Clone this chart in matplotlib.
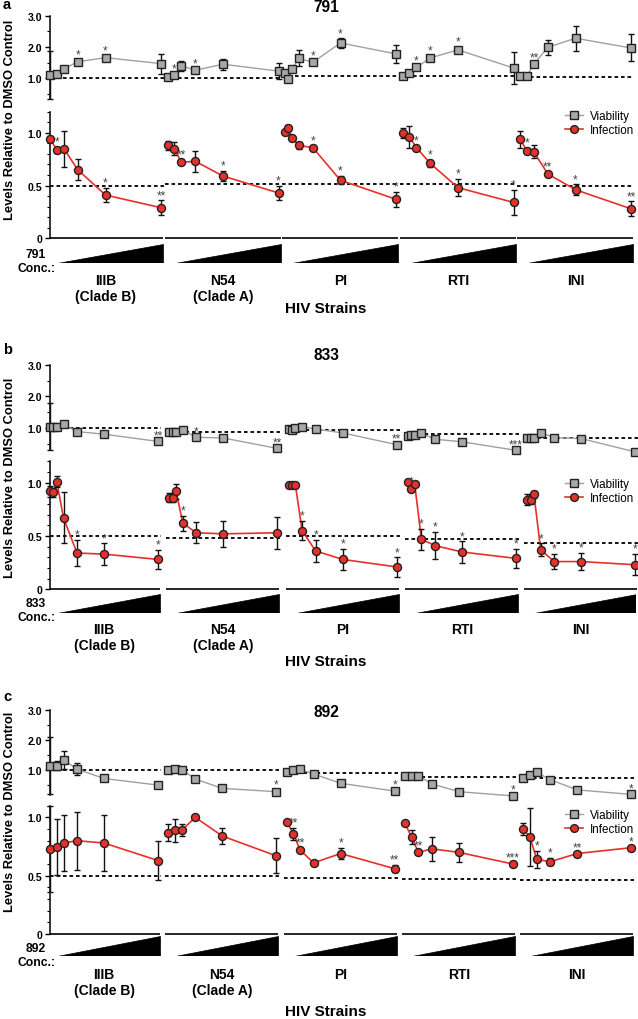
import matplotlib
matplotlib.use("Agg")
import matplotlib.pyplot as plt
from matplotlib.patches import Polygon
from matplotlib.lines import Line2D

plt.rcParams['font.family'] = ['Liberation Sans', 'DejaVu Sans']

W, H, DPI = 638, 1020, 100

# ---------------- data ----------------
groups = ["IIIB\n(Clade B)", "N54\n(Clade A)", "PI", "RTI", "INI"]
compounds = ["791", "833", "892"]
conc6 = [0, 1/16, 1/8, 1/4, 1/2, 1]
conc7 = [0, 1/32, 1/16, 1/8, 1/4, 1/2, 1]

# panel a (791)
a_conc = [conc6, conc6, conc7, conc6, conc6]
a_via = [[1.11, 1.13, 1.30, 1.53, 1.66, 1.47],
         [1.04, 1.11, 1.40, 1.26, 1.45, 1.23],
         [1.17, 0.98, 1.30, 1.64, 1.51, 2.13, 1.78],
         [1.09, 1.17, 1.35, 1.65, 1.91, 1.33],
         [1.08, 1.09, 1.45, 1.99, 2.28, 1.97]]
a_via_err = [[0.77, 0.04, 0.08, 0.05, 0.05, 0.32],
             [0.03, 0.04, 0.15, 0.05, 0.18, 0.25],
             [0.05, 0.05, 0.05, 0.25, 0.05, 0.15, 0.28],
             [0.03, 0.03, 0.05, 0.07, 0.10, 0.50],
             [0.03, 0.03, 0.05, 0.25, 0.40, 0.43]]
a_via_sig = [["", "", "", "*", "*", ""],
             ["", "*", "", "*", "", ""],
             ["", "", "", "", "*", "*", ""],
             ["", "", "*", "*", "*", ""],
             ["", "", "**", "", "", ""]]
a_inf = [[0.94, 0.84, 0.85, 0.65, 0.41, 0.29],
         [0.88, 0.85, 0.72, 0.73, 0.59, 0.43],
         [1.01, 1.05, 0.95, 0.88, 0.86, 0.55, 0.37],
         [1.00, 0.96, 0.86, 0.71, 0.48, 0.34],
         [0.94, 0.83, 0.82, 0.61, 0.46, 0.28]]
a_inf_err = [[0.03, 0.03, 0.17, 0.10, 0.07, 0.07],
             [0.04, 0.06, 0.02, 0.10, 0.05, 0.07],
             [0.02, 0.02, 0.02, 0.03, 0.02, 0.04, 0.07],
             [0.05, 0.10, 0.02, 0.03, 0.08, 0.12],
             [0.08, 0.03, 0.06, 0.02, 0.05, 0.07]]
a_inf_sig = [["", "*", "", "", "*", "**"],
             ["", "", "**", "", "*", "*"],
             ["", "", "", "", "*", "*", "*"],
             ["", "", "*", "*", "*", "*"],
             ["", "*", "", "**", "*", "**"]]
a_via_ref = [1.00, 1.02, 1.09, 1.09, 1.05]
a_inf_ref = [0.50, 0.51, 0.51, 0.51, 0.50]

# panel b (833)
b_conc = [conc7, conc7, conc7, conc7, conc7]
b_via = [[1.05, 1.05, 1.05, 1.13, 0.89, 0.81, 0.58],
         [0.87, 0.87, 0.89, 0.94, 0.71, 0.69, 0.36],
         [0.97, 0.95, 1.00, 1.05, 0.97, 0.85, 0.48],
         [0.76, 0.78, 0.78, 0.84, 0.65, 0.57, 0.30],
         [0.70, 0.68, 0.68, 0.86, 0.70, 0.67, 0.25]]
b_via_err = [[0.73, 0.03, 0.03, 0.08, 0.03, 0.03, 0.03],
             [0.03, 0.03, 0.03, 0.03, 0.03, 0.03, 0.03],
             [0.04, 0.03, 0.03, 0.05, 0.03, 0.03, 0.03],
             [0.03, 0.03, 0.03, 0.03, 0.03, 0.03, 0.03],
             [0.03, 0.03, 0.03, 0.03, 0.03, 0.06, 0.03]]
b_via_sig = [["", "", "", "", "", "", "**"],
             ["", "", "", "", "*", "", "**"],
             ["", "", "", "", "", "", "**"],
             ["", "", "", "", "", "", "***"],
             ["", "", "", "", "", "", "*"]]
b_inf = [[0.92, 0.91, 1.01, 0.67, 0.34, 0.33, 0.28],
         [0.86, 0.86, 0.92, 0.62, 0.53, 0.52, 0.53],
         [0.98, 0.98, 0.98, 0.55, 0.36, 0.28, 0.21],
         [1.01, 0.94, 0.99, 0.47, 0.41, 0.35, 0.29],
         [0.84, 0.84, 0.89, 0.37, 0.26, 0.26, 0.23]]
b_inf_err = [[0.05, 0.04, 0.05, 0.24, 0.12, 0.10, 0.09],
             [0.04, 0.04, 0.07, 0.07, 0.10, 0.12, 0.15],
             [0.02, 0.02, 0.02, 0.09, 0.10, 0.10, 0.09],
             [0.02, 0.02, 0.02, 0.10, 0.13, 0.10, 0.09],
             [0.05, 0.04, 0.03, 0.06, 0.07, 0.08, 0.10]]
b_inf_sig = [["", "", "", "", "*", "*", "*"],
             ["", "", "", "*", "", "", ""],
             ["", "", "", "*", "*", "*", "*"],
             ["", "*", "", "*", "*", "*", "*"],
             ["", "", "", "*", "*", "*", "*"]]
b_via_ref = [1.00, 0.87, 0.95, 0.81, 0.69]
b_inf_ref = [0.50, 0.48, 0.50, 0.47, 0.43]

# panel c (892)
c_conc = [conc6, conc6, conc6, conc6, conc6]
c_via = [[1.14, 1.14, 1.34, 1.03, 0.72, 0.50],
         [1.00, 1.03, 1.01, 0.70, 0.39, 0.28],
         [0.94, 1.00, 1.03, 0.87, 0.56, 0.30],
         [0.79, 0.79, 0.81, 0.54, 0.28, 0.14],
         [0.73, 0.83, 0.92, 0.68, 0.34, 0.19]]
c_via_err = [[0.95, 0.15, 0.30, 0.20, 0.08, 0.10],
             [0.03, 0.03, 0.03, 0.08, 0.10, 0.05],
             [0.03, 0.03, 0.03, 0.03, 0.03, 0.03],
             [0.03, 0.03, 0.03, 0.03, 0.05, 0.03],
             [0.03, 0.03, 0.03, 0.03, 0.03, 0.03]]
c_via_sig = [["", "", "", "", "", ""],
             ["", "", "", "", "", "*"],
             ["", "", "", "", "", "*"],
             ["", "", "", "", "", "*"],
             ["", "", "", "", "", "*"]]
c_inf = [[0.73, 0.75, 0.78, 0.80, 0.78, 0.63],
         [0.87, 0.89, 0.89, 1.00, 0.84, 0.67],
         [0.96, 0.86, 0.72, 0.61, 0.69, 0.56],
         [0.95, 0.83, 0.70, 0.73, 0.70, 0.60],
         [0.90, 0.83, 0.64, 0.62, 0.69, 0.74]]
c_inf_err = [[0.37, 0.24, 0.24, 0.25, 0.24, 0.17],
             [0.07, 0.10, 0.05, 0.01, 0.07, 0.15],
             [0.02, 0.05, 0.02, 0.02, 0.05, 0.03],
             [0.01, 0.06, 0.01, 0.10, 0.08, 0.01],
             [0.05, 0.25, 0.07, 0.03, 0.01, 0.01]]
c_inf_sig = [["", "", "", "", "", ""],
             ["", "", "", "", "", ""],
             ["", "**", "**", "", "*", "**"],
             ["", "", "**", "", "", "***"],
             ["", "", "*", "*", "**", "*"]]
c_via_ref = [1.00, 1.00, 0.89, 0.78, 0.72]
c_inf_ref = [0.50, 0.50, 0.48, 0.47, 0.46]

# ---------------- layout (pixels) ----------------
layouts = [
    dict(letter="a", via=(16.7, 100, 0.34, 3.0), inf=(112.7, 239.3, 0, 1.2), wedge=(245, 264),
         sp=117.5, wd=111, conc_y=262, grp_y=274, strains_y=309, title_y=8, letter_y=5,
         ylab_y=120, leg_y=111),
    dict(letter="b", via=(365.7, 450.7, 0.32, 3.0), inf=(462.3, 590.3, 0, 1.2), wedge=(595, 614),
         sp=119.3, wd=108, conc_y=611, grp_y=623, strains_y=662, title_y=355, letter_y=350,
         ylab_y=478, leg_y=479),
    dict(letter="c", via=(711, 796, 0.17, 3.0), inf=(806.7, 935, 0, 1.1), wedge=(937, 957),
         sp=118.3, wd=108, conc_y=956, grp_y=968, strains_y=1012, title_y=713, letter_y=697,
         ylab_y=812, leg_y=810),
]
panels = [
    (a_conc, a_via, a_via_err, a_via_sig, a_inf, a_inf_err, a_inf_sig, a_via_ref, a_inf_ref),
    (b_conc, b_via, b_via_err, b_via_sig, b_inf, b_inf_err, b_inf_sig, b_via_ref, b_inf_ref),
    (c_conc, c_via, c_via_err, c_via_sig, c_inf, c_inf_err, c_inf_sig, c_via_ref, c_inf_ref),
]

LEFT, RIGHT = 50, 636
GRAY_FILL = "#a8a8a8"
GRAY_LINE = "#a0a0a0"
RED = "#e8302a"
EDGE = "#222222"
STAR = "#444444"

fig = plt.figure(figsize=(W / DPI, H / DPI), dpi=DPI)


def add_ax(top, bottom):
    return fig.add_axes([LEFT / W, 1 - bottom / H, (RIGHT - LEFT) / W, (bottom - top) / H])


def ftext(x, y, s, **kw):
    fig.text(x / W, 1 - y / H, s, **kw)


def style_axis(ax, ylim, major, labels, minor):
    ax.set_xlim(0, RIGHT - LEFT)
    ax.set_ylim(*ylim)
    for sp in ("top", "right", "bottom"):
        ax.spines[sp].set_visible(False)
    ax.spines["left"].set_linewidth(1.1)
    ax.set_xticks([])
    ax.set_yticks(major)
    ax.set_yticklabels(labels, fontsize=7.6, fontweight="bold")
    ax.set_yticks(minor, minor=True)
    ax.tick_params(axis="y", which="major", direction="out", length=3.5, width=1, pad=2)
    ax.tick_params(axis="y", which="minor", direction="out", length=2.2, width=0.8)
    ax.patch.set_alpha(0)


def draw_series(ax, xs, ys, es, sig, marker, fill, line, lw):
    ax.plot(xs, ys, color=line, lw=lw, zorder=2, clip_on=False)
    eb = ax.errorbar(xs, ys, yerr=es, fmt="none", ecolor="#111111", elinewidth=1.0,
                     capsize=2.2, capthick=1.0, zorder=3)
    for art in eb.lines[1] + eb.lines[2]:
        art.set_clip_on(False)
    ax.plot(xs, ys, ls="none", marker=marker, ms=5.8, mfc=fill, mec=EDGE, mew=1.0,
            zorder=4, clip_on=False)
    for x, y, e, s in zip(xs, ys, es, sig):
        if s:
            ax.annotate(s, (x, y + e), xytext=(0, -0.5), textcoords="offset points",
                        ha="center", va="bottom", fontsize=8.5, color=STAR, zorder=5)


for L, comp, data in zip(layouts, compounds, panels):
    conc, via, via_e, via_s, inf, inf_e, inf_s, via_ref, inf_ref = data
    vt, vb, vy0, vy1 = L["via"]
    it, ib, iy0, iy1 = L["inf"]
    axv = add_ax(vt, vb)
    axi = add_ax(it, ib)
    axw = add_ax(*L["wedge"])
    style_axis(axv, (vy0, vy1), [1, 2, 3], ["1.0", "2.0", "3.0"], [0.5, 1.5, 2.5])
    n_minor = int(round(iy1 * 10))
    style_axis(axi, (iy0, iy1), [0, 0.5, 1.0], ["0", "0.5", "1.0"],
               [k / 10 for k in range(1, n_minor + 1)])
    axw.set_xlim(0, RIGHT - LEFT)
    axw.set_ylim(0, 1)
    axw.axis("off")

    sp, wd = L["sp"], L["wd"]
    for g in range(len(groups)):
        x0 = g * sp
        xs = [x0 + c * wd for c in conc[g]]
        xl = 0 if g == 0 else x0 - 3
        xr = x0 + wd + 3
        # reference lines
        axv.plot([xl, xr], [via_ref[g]] * 2, color="black", lw=1.3, ls=(0, (2, 1.6)), zorder=1,
                 clip_on=False)
        axi.plot([xl, xr], [inf_ref[g]] * 2, color="black", lw=1.3, ls=(0, (2, 1.6)), zorder=1,
                 clip_on=False)
        # baseline segment
        axi.plot([xl, xr - 1], [0, 0], color="black", lw=1.2, zorder=1, clip_on=False,
                 solid_capstyle="butt")
        draw_series(axv, xs, via[g], via_e[g], via_s[g], "s", GRAY_FILL, GRAY_LINE, 1.0)
        draw_series(axi, xs, inf[g], inf_e[g], inf_s[g], "o", RED, RED, 1.2)
        # concentration wedge
        axw.add_patch(Polygon([(x0 + 0.065 * wd, 0), (x0 + wd + 2, 0), (x0 + wd + 2, 1)],
                              closed=True, facecolor="black", edgecolor="black", lw=0.5))
        ftext(LEFT + x0 + wd / 2, L["grp_y"], groups[g], ha="center", va="top",
              fontsize=10, fontweight="bold", linespacing=1.15)

    ftext(36, L["conc_y"], comp + "\nConc.:", ha="center", va="center", fontsize=8.7,
          fontweight="bold", linespacing=1.2)
    ftext(326, L["strains_y"], "HIV Strains", ha="center", va="center", fontsize=11,
          fontweight="bold")
    ftext(326, L["title_y"], comp, ha="center", va="center", fontsize=11.2, fontweight="bold")
    ftext(3, L["letter_y"], L["letter"], ha="left", va="center", fontsize=10.5,
          fontweight="bold")
    ftext(10, L["ylab_y"], "Levels Relative to DMSO Control", ha="center", va="center",
          rotation=90, fontsize=9.3, fontweight="bold")

    handles = [Line2D([], [], color=GRAY_LINE, lw=1.0, marker="s", ms=5.6, mfc=GRAY_FILL,
                      mec=EDGE, mew=1.0),
               Line2D([], [], color=RED, lw=1.2, marker="o", ms=5.6, mfc=RED, mec=EDGE,
                      mew=1.0)]
    fig.legend(handles, ["Viability", "Infection"], loc="upper left",
               bbox_to_anchor=(565 / W, 1 - L["leg_y"] / H), frameon=False, fontsize=8.4,
               handlelength=1.5, handletextpad=0.6, labelspacing=0.15, borderpad=0,
               borderaxespad=0)

fig.savefig("out.png", dpi=DPI)
